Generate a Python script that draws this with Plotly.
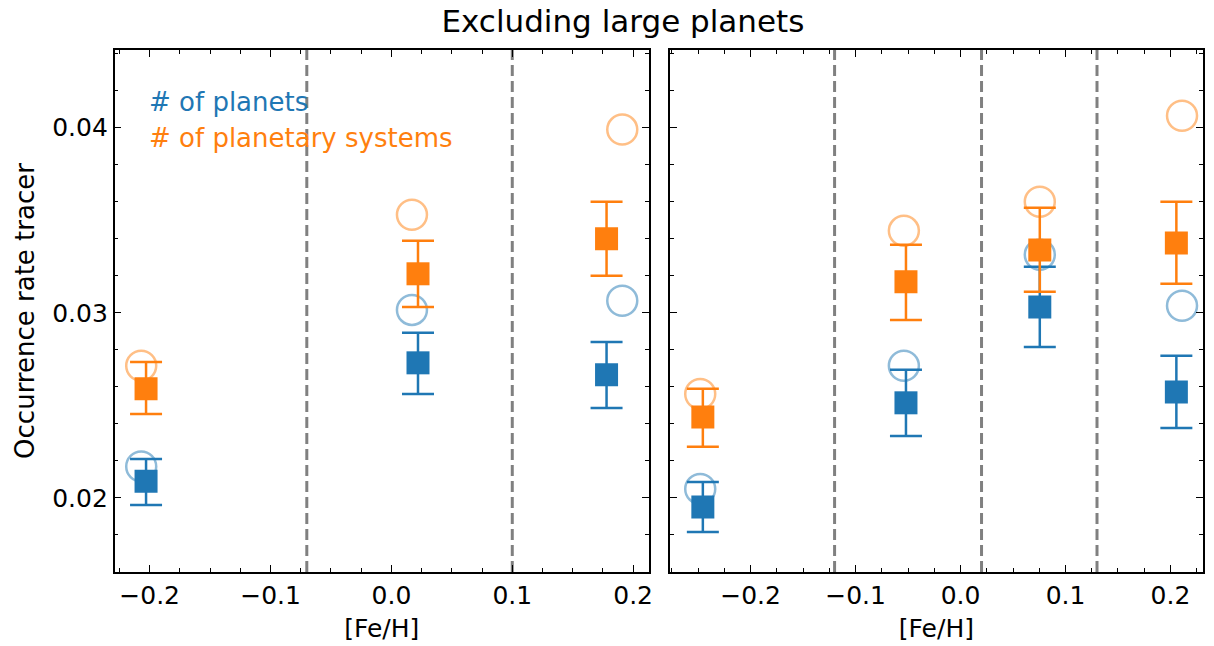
import plotly.graph_objects as go
from plotly.subplots import make_subplots

BLUE = "#1f77b4"
ORANGE = "#ff7f0e"

# ---- Left panel data ----
L_x_sq = [-0.203, 0.022, 0.178]
L_x_circ = [-0.207, 0.017, 0.191]
L_planets = [0.0209, 0.0273, 0.02665]
L_planets_hi = [0.0221, 0.02892, 0.02843]
L_planets_lo = [0.01962, 0.02562, 0.02486]
L_planets_open = [0.0217, 0.03016, 0.03065]
L_systems = [0.0259, 0.03211, 0.0340]
L_systems_hi = [0.02735, 0.0339, 0.0360]
L_systems_lo = [0.02454, 0.03032, 0.0320]
L_systems_open = [0.02714, 0.0353, 0.0399]
L_bins = [-0.07, 0.10]

# ---- Right panel data ----
R_x_sq = [-0.2455, -0.052, 0.0755, 0.2056]
R_x_circ = [-0.248, -0.054, 0.0755, 0.211]
R_planets = [0.01951, 0.02514, 0.03032, 0.02573]
R_planets_hi = [0.02086, 0.02692, 0.03249, 0.02768]
R_planets_lo = [0.01816, 0.02335, 0.02816, 0.02378]
R_planets_open = [0.02049, 0.02714, 0.03314, 0.03038]
R_systems = [0.02438, 0.03168, 0.0334, 0.03378]
R_systems_hi = [0.0259, 0.03368, 0.03568, 0.0360]
R_systems_lo = [0.02276, 0.02962, 0.03114, 0.03157]
R_systems_open = [0.02562, 0.03443, 0.0360, 0.04065]
R_bins = [-0.12, 0.02, 0.13]

title_text = "Excluding large planets"
xlabel = "[Fe/H]"
ylabel = "Occurrence rate tracer"
legend_labels = ["# of planets", "# of planetary systems"]

FONT = "DejaVu Sans"

W, H = 1214, 646
TOP, BOT = 50, 572

fig = make_subplots(rows=1, cols=2, shared_yaxes=False)


def add_panel(col, xs, xc, p, phi, plo, popen, s, shi, slo, sopen):
    for vals, hi, lo, opn, color in [(p, phi, plo, popen, BLUE), (s, shi, slo, sopen, ORANGE)]:
        fig.add_trace(go.Scatter(
            x=xc, y=opn, mode="markers",
            marker=dict(symbol="circle-open", size=30, color=color, opacity=0.5,
                        line=dict(width=2.5, color=color)),
            showlegend=False, hoverinfo="skip"), row=1, col=col)
        fig.add_trace(go.Scatter(
            x=xs, y=vals, mode="markers",
            marker=dict(symbol="square", size=23, color=color, line=dict(width=0)),
            error_y=dict(type="data", symmetric=False,
                         array=[h - v for h, v in zip(hi, vals)],
                         arrayminus=[v - l for v, l in zip(vals, lo)],
                         color=color, thickness=2.5, width=16),
            showlegend=False, hoverinfo="skip"), row=1, col=col)


add_panel(1, L_x_sq, L_x_circ, L_planets, L_planets_hi, L_planets_lo, L_planets_open,
          L_systems, L_systems_hi, L_systems_lo, L_systems_open)
add_panel(2, R_x_sq, R_x_circ, R_planets, R_planets_hi, R_planets_lo, R_planets_open,
          R_systems, R_systems_hi, R_systems_lo, R_systems_open)

for xv in L_bins:
    fig.add_shape(type="line", x0=xv, x1=xv, y0=0, y1=1, xref="x", yref="y domain",
                  line=dict(color="#808080", width=3, dash="11px,5px"), layer="below")
for xv in R_bins:
    fig.add_shape(type="line", x0=xv, x1=xv, y0=0, y1=1, xref="x2", yref="y2 domain",
                  line=dict(color="#808080", width=3, dash="11px,5px"), layer="below")

axis_common = dict(
    showline=True, linecolor="black", linewidth=1.5, mirror="allticks",
    ticks="inside", ticklen=7, tickwidth=1.3, tickcolor="black",
    showgrid=False, zeroline=False,
    tickfont=dict(family=FONT, size=25, color="black"),
)

fig.update_xaxes(**axis_common, dtick=0.1, tick0=0, tickformat=".1f",
                 minor=dict(ticks="inside", ticklen=4, tickwidth=1, tickcolor="black", dtick=0.025, tick0=0),
                 title=dict(text=xlabel, font=dict(family=FONT, size=25, color="black"), standoff=11))
fig.update_yaxes(**axis_common, dtick=0.01, tick0=0, tickformat=".2f", range=[0.0160, 0.0442],
                 minor=dict(ticks="inside", ticklen=4, tickwidth=1, tickcolor="black", dtick=0.002, tick0=0))

fig.update_layout(
    xaxis=dict(range=[-0.229, 0.213], domain=[115 / W, 651 / W]),
    xaxis2=dict(range=[-0.277, 0.231], domain=[672 / W, 1207 / W]),
    yaxis=dict(domain=[1 - BOT / H, 1 - TOP / H],
               title=dict(text=ylabel, font=dict(family=FONT, size=26, color="black"), standoff=10)),
    yaxis2=dict(domain=[1 - BOT / H, 1 - TOP / H], showticklabels=False),
)

for txt, py, color in [(legend_labels[0], 102, BLUE), (legend_labels[1], 138, ORANGE)]:
    fig.add_annotation(text=txt, x=147 / W, y=1 - py / H,
                       xref="paper", yref="paper", showarrow=False,
                       font=dict(family=FONT, size=26, color=color),
                       xanchor="left", yanchor="middle")

fig.update_layout(
    width=W, height=H,
    margin=dict(l=0, r=0, t=0, b=0),
    paper_bgcolor="white", plot_bgcolor="white",
    title=dict(text=title_text, x=625 / W, xanchor="center", xref="paper",
               y=1 - 21 / H, yref="container", yanchor="middle",
               font=dict(family=FONT, size=31, color="black")),
    font=dict(family=FONT),
)

fig.write_html("out.html",
               config={"displayModeBar": False},
               post_script="document.body.style.margin='0px';document.body.style.overflow='hidden';")
